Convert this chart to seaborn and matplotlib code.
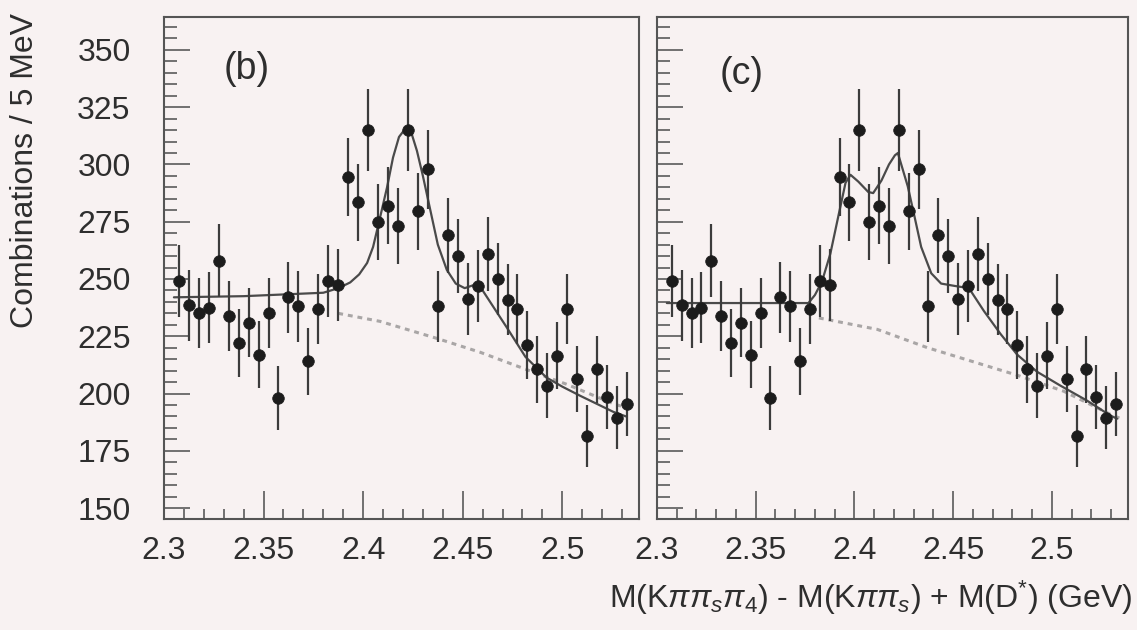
import numpy as np
import matplotlib
matplotlib.use("Agg")
import matplotlib.pyplot as plt
from matplotlib.ticker import MultipleLocator, FormatStrFormatter
import seaborn as sns

# Invariant-mass bins (5 MeV wide), centres in GeV
bin_centres = [round(2.3075 + 0.005 * i, 4) for i in range(46)]

# Entries per bin (same data shown in both panels)
counts = [249, 238.5, 235, 237.5, 258, 234, 222, 231, 217, 235,
          198, 242, 238, 214, 237, 249, 247.5, 294.5, 283.5, 315,
          275, 282, 273, 315, 279.5, 298, 238, 269, 260, 241.3,
          247, 261, 250, 241, 237, 221, 210.5, 203.5, 216.5, 237,
          206.5, 181.5, 210.5, 198.5, 189.5, 195.5]

# Panel (b): single-peak fit and its background component
fit_b_x = [2.305, 2.340, 2.380, 2.3876, 2.3935, 2.398, 2.402, 2.405, 2.408,
           2.412, 2.415, 2.418, 2.4215, 2.4245, 2.427, 2.430, 2.4335, 2.4375,
           2.442, 2.4465, 2.451, 2.456, 2.460, 2.466, 2.472, 2.4815, 2.492,
           2.500, 2.509, 2.5256, 2.532]
fit_b_y = [242, 242.5, 244, 246, 248.5, 252, 257, 264, 275,
           290, 303, 312, 316, 313, 306, 295, 281, 265,
           254, 248, 246, 247.5, 245, 237, 229, 216, 207,
           203, 199, 192, 190]
bkg_b_x = [2.3875, 2.4085, 2.4373, 2.4588, 2.4819, 2.5023, 2.5258, 2.535]
bkg_b_y = [235, 231.5, 224, 218, 210.5, 204, 195.5, 193]

# Panel (c): double-peak fit and its background component
fit_c_x = [2.305, 2.340, 2.3767, 2.380, 2.3836, 2.3878, 2.392, 2.3955, 2.398,
           2.402, 2.407, 2.4095, 2.4137, 2.4175, 2.4205, 2.422, 2.427, 2.4305,
           2.4338, 2.4389, 2.4439, 2.4506, 2.458, 2.4656, 2.474, 2.4824, 2.4925,
           2.5042, 2.5176, 2.5294, 2.533]
fit_c_y = [239.5, 239.5, 239.5, 243, 249, 261, 278, 292, 295.5,
           292.5, 288, 287.5, 293, 300, 304, 305, 290.5, 277,
           264, 252.5, 248, 247, 246, 236, 226, 217, 209.5,
           203.5, 197, 190.5, 189]
bkg_c_x = [2.382, 2.4116, 2.437, 2.4824, 2.506, 2.5294, 2.535]
bkg_c_y = [233, 228, 220, 208, 201, 191, 189]

panel_tags = ["(b)", "(c)"]
y_tick_values = [150, 175, 200, 225, 250, 275, 300, 325, 350]
x_tick_values = [2.3, 2.35, 2.4, 2.45, 2.5]

sns.set_theme(style="ticks")
plt.rcParams["font.family"] = ["Liberation Sans", "DejaVu Sans"]
plt.rcParams["mathtext.fontset"] = "custom"
plt.rcParams["mathtext.rm"] = "Liberation Sans"
plt.rcParams["mathtext.it"] = "Liberation Sans:italic"
plt.rcParams["mathtext.sf"] = "Liberation Sans"

paper = "#f8f2f2"
ink = "#2e2e2e"
fig = plt.figure(figsize=(11.37, 6.3), dpi=100, facecolor=paper)

ax_b = fig.add_axes([0.1442, 0.1754, 0.4178, 0.7984])
ax_c = fig.add_axes([0.5778, 0.1754, 0.4142, 0.7984])

errs = np.sqrt(np.array(counts))

panels = [
    (ax_b, fit_b_x, fit_b_y, bkg_b_x, bkg_b_y, panel_tags[0], (0.175, 0.895)),
    (ax_c, fit_c_x, fit_c_y, bkg_c_x, bkg_c_y, panel_tags[1], (0.18, 0.885)),
]

for ax, fx, fy, bx, by, tag, tag_pos in panels:
    ax.set_facecolor(paper)
    # background shape (dotted)
    sns.lineplot(x=bx, y=by, ax=ax, color="#a9a6a6", lw=2.2,
                 linestyle=(0, (1.6, 1.6)), sort=False, estimator=None)
    # full fit
    sns.lineplot(x=fx, y=fy, ax=ax, color="#4a4a4a", lw=1.6,
                 sort=False, estimator=None)
    # data with statistical errors
    ax.errorbar(bin_centres, counts, yerr=errs, fmt="none",
                ecolor="#3c3c3c", elinewidth=1.6, capsize=0, zorder=3)
    sns.scatterplot(x=bin_centres, y=counts, ax=ax, s=70, color="#1c1c1c",
                    edgecolor="#1c1c1c", linewidth=0.5, zorder=4)

    ax.set_xlim(2.3, 2.5385)
    ax.set_ylim(145, 364.6)
    ax.set_xticks(x_tick_values)
    ax.set_yticks(y_tick_values)
    ax.xaxis.set_minor_locator(MultipleLocator(0.01))
    ax.yaxis.set_minor_locator(MultipleLocator(5))
    ax.xaxis.set_major_formatter(FormatStrFormatter("%g"))
    ax.tick_params(axis="both", which="both", direction="in", colors="#5a5a5a",
                   labelcolor=ink, labelsize=23, width=1.2)
    ax.tick_params(axis="x", which="major", length=20, pad=12)
    ax.tick_params(axis="x", which="minor", length=7)
    ax.tick_params(axis="y", which="major", length=19, pad=24)
    ax.tick_params(axis="y", which="minor", length=9)
    for side in ["left", "right", "top", "bottom"]:
        ax.spines[side].set_visible(True)
        ax.spines[side].set_color("#555555")
        ax.spines[side].set_linewidth(1.5)
    ax.set_xlabel("")
    ax.set_ylabel("")
    ax.text(tag_pos[0], tag_pos[1], tag, transform=ax.transAxes,
            fontsize=27, color=ink, ha="center", va="center")

ax_c.tick_params(axis="y", labelleft=False)

fig.text(25 / 1137, 1 - 13 / 630, "Combinations / 5 MeV", rotation=90,
         ha="center", va="top", fontsize=23, color=ink)
fig.text(1132 / 1137, 1 - 608 / 630,
         r"M(K$\pi\pi_{s}\pi_{4}$) - M(K$\pi\pi_{s}$) + M(D$^{*}$) (GeV)",
         ha="right", va="baseline", fontsize=23, color=ink)

fig.savefig("out.png", dpi=100, facecolor=paper)
